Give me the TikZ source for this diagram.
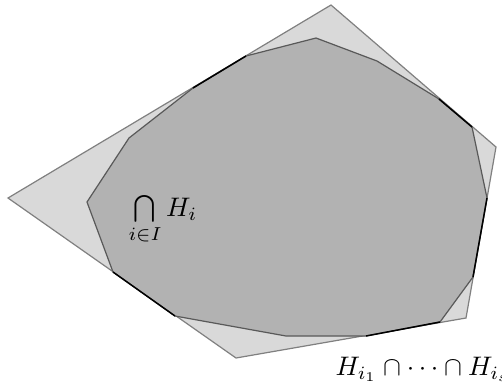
\documentclass[tikz,border=0pt]{standalone}
\usepackage{amsmath}
\usetikzlibrary{positioning}
\tikzset{hpanel/.style={
  outer/.style={fill=black!15, draw=black!50, line width=0.45pt},
  inner/.style={fill=black!30, draw=black!65, line width=0.45pt},
  facet/.style={draw=black, line width=0.55pt},
  lab/.style={inner sep=0pt},
}}

\begin{document}
\begin{tikzpicture}[hpanel, x=0.0131cm, y=-0.0131cm]
\useasboundingbox (0,0) rectangle (502,383);

% ---- outer polytope H_{i_1} \cap ... \cap H_{i_s} ----
\coordinate (o1) at (8,198);
\coordinate (o2) at (331,5);
\coordinate (o3) at (496,147);
\coordinate (o4) at (466,318);
\coordinate (o5) at (236,358);
\draw[outer] (o1) -- (o2) -- (o3) -- (o4) -- (o5) -- cycle;

% ---- inner polytope, all halfspaces ----
\coordinate (p1)  at (87,202);
\coordinate (p2)  at (129,138);
\coordinate (p3)  at (193,88);
\coordinate (p4)  at (246,56);
\coordinate (p5)  at (316,38);
\coordinate (p6)  at (377,61);
\coordinate (p7)  at (439,99);
\coordinate (p8)  at (472,127);
\coordinate (p9)  at (487,198);
\coordinate (p10) at (473,277);
\coordinate (p11) at (440,322);
\coordinate (p12) at (366,336);
\coordinate (p13) at (286,336);
\coordinate (p14) at (175,316);
\coordinate (p15) at (113,272);
\draw[inner] (p1) -- (p2) -- (p3) -- (p4) -- (p5) -- (p6) -- (p7) -- (p8)
  -- (p9) -- (p10) -- (p11) -- (p12) -- (p13) -- (p14) -- (p15) -- cycle;

% ---- shared facets ----
\draw[facet] (p3) -- (p4);
\draw[facet] (p7) -- (p8);
\draw[facet] (p9) -- (p10);
\draw[facet] (p11) -- (p12);
\draw[facet] (p14) -- (p15);

% ---- labels ----
\node[lab, anchor=base west] (capall) at (128,216) {$\bigcap\limits_{i\in I} H_i$};
\node[lab, anchor=base west] (capsome) at (335,375) {$H_{i_1}\cap\cdots\cap H_{i_s}$};

\end{tikzpicture}
\end{document}
